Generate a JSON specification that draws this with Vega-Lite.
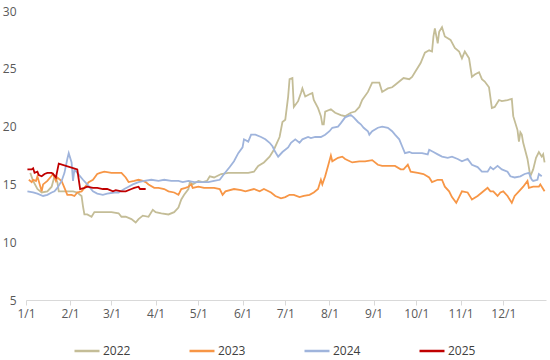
{
  "$schema": "https://vega.github.io/schema/vega-lite/v6.json",
  "width": 520,
  "height": 289,
  "autosize": {"type": "none"},
  "padding": {"left": 26, "top": 11, "right": 4, "bottom": 60},
  "background": "white",
  "config": {
    "view": {"stroke": null},
    "font": "Open Sans",
    "axis": {"labelFont": "Open Sans", "labelColor": "#595959", "labelFontSize": 12}
  },
  "data": {"values": [
        {"year":"2022","date":"2022/01/04","v":16.0},{"year":"2022","date":"2022/01/06","v":15.3},{"year":"2022","date":"2022/01/09","v":14.6},{"year":"2022","date":"2022/01/12","v":14.3},{"year":"2022","date":"2022/01/16","v":14.4},{"year":"2022","date":"2022/01/19","v":14.8},{"year":"2022","date":"2022/01/21","v":15.7},{"year":"2022","date":"2022/01/23","v":15.2},{"year":"2022","date":"2022/01/24","v":14.4},{"year":"2022","date":"2022/01/30","v":14.4},
        {"year":"2022","date":"2022/02/03","v":14.4},{"year":"2022","date":"2022/02/06","v":14.3},{"year":"2022","date":"2022/02/09","v":14.0},{"year":"2022","date":"2022/02/10","v":13.1},{"year":"2022","date":"2022/02/11","v":12.4},{"year":"2022","date":"2022/02/13","v":12.4},{"year":"2022","date":"2022/02/16","v":12.2},{"year":"2022","date":"2022/02/18","v":12.6},{"year":"2022","date":"2022/02/22","v":12.6},
        {"year":"2022","date":"2022/03/01","v":12.6},{"year":"2022","date":"2022/03/06","v":12.5},{"year":"2022","date":"2022/03/08","v":12.2},{"year":"2022","date":"2022/03/11","v":12.2},{"year":"2022","date":"2022/03/15","v":12.0},{"year":"2022","date":"2022/03/18","v":11.7},{"year":"2022","date":"2022/03/20","v":12.0},{"year":"2022","date":"2022/03/23","v":12.3},{"year":"2022","date":"2022/03/27","v":12.2},{"year":"2022","date":"2022/03/30","v":12.8},
        {"year":"2022","date":"2022/04/01","v":12.6},{"year":"2022","date":"2022/04/05","v":12.5},{"year":"2022","date":"2022/04/10","v":12.4},{"year":"2022","date":"2022/04/14","v":12.6},{"year":"2022","date":"2022/04/17","v":13.0},{"year":"2022","date":"2022/04/19","v":13.7},{"year":"2022","date":"2022/04/21","v":14.1},{"year":"2022","date":"2022/04/24","v":14.6},{"year":"2022","date":"2022/04/25","v":15.2},{"year":"2022","date":"2022/04/27","v":15.0},
        {"year":"2022","date":"2022/05/01","v":15.3},{"year":"2022","date":"2022/05/04","v":15.2},{"year":"2022","date":"2022/05/07","v":15.3},{"year":"2022","date":"2022/05/09","v":15.7},{"year":"2022","date":"2022/05/12","v":15.6},{"year":"2022","date":"2022/05/17","v":15.9},{"year":"2022","date":"2022/05/22","v":16.0},{"year":"2022","date":"2022/05/26","v":16.0},{"year":"2022","date":"2022/05/31","v":16.0},
        {"year":"2022","date":"2022/06/05","v":16.0},{"year":"2022","date":"2022/06/09","v":16.1},{"year":"2022","date":"2022/06/12","v":16.6},{"year":"2022","date":"2022/06/16","v":16.9},{"year":"2022","date":"2022/06/20","v":17.4},{"year":"2022","date":"2022/06/23","v":18.0},{"year":"2022","date":"2022/06/27","v":19.1},{"year":"2022","date":"2022/06/29","v":20.4},
        {"year":"2022","date":"2022/07/01","v":20.6},{"year":"2022","date":"2022/07/03","v":22.6},{"year":"2022","date":"2022/07/04","v":24.1},{"year":"2022","date":"2022/07/06","v":24.2},{"year":"2022","date":"2022/07/07","v":21.7},{"year":"2022","date":"2022/07/10","v":22.2},{"year":"2022","date":"2022/07/12","v":22.9},{"year":"2022","date":"2022/07/13","v":23.3},{"year":"2022","date":"2022/07/15","v":22.6},{"year":"2022","date":"2022/07/18","v":22.8},{"year":"2022","date":"2022/07/20","v":22.9},{"year":"2022","date":"2022/07/21","v":22.3},{"year":"2022","date":"2022/07/24","v":21.6},{"year":"2022","date":"2022/07/26","v":20.9},{"year":"2022","date":"2022/07/27","v":20.2},{"year":"2022","date":"2022/07/28","v":20.2},{"year":"2022","date":"2022/07/29","v":21.3},
        {"year":"2022","date":"2022/08/02","v":21.5},{"year":"2022","date":"2022/08/05","v":21.2},{"year":"2022","date":"2022/08/09","v":21.0},{"year":"2022","date":"2022/08/12","v":20.9},{"year":"2022","date":"2022/08/16","v":21.2},{"year":"2022","date":"2022/08/19","v":21.3},{"year":"2022","date":"2022/08/22","v":21.7},{"year":"2022","date":"2022/08/24","v":22.3},{"year":"2022","date":"2022/08/28","v":23.0},{"year":"2022","date":"2022/08/31","v":23.8},
        {"year":"2022","date":"2022/09/02","v":23.8},{"year":"2022","date":"2022/09/05","v":23.8},{"year":"2022","date":"2022/09/07","v":23.0},{"year":"2022","date":"2022/09/11","v":23.3},{"year":"2022","date":"2022/09/14","v":23.4},{"year":"2022","date":"2022/09/16","v":23.6},{"year":"2022","date":"2022/09/19","v":23.9},{"year":"2022","date":"2022/09/22","v":24.2},{"year":"2022","date":"2022/09/26","v":24.1},{"year":"2022","date":"2022/09/28","v":24.3},{"year":"2022","date":"2022/09/30","v":24.7},
        {"year":"2022","date":"2022/10/04","v":25.5},{"year":"2022","date":"2022/10/07","v":26.4},{"year":"2022","date":"2022/10/10","v":26.6},{"year":"2022","date":"2022/10/12","v":26.5},{"year":"2022","date":"2022/10/13","v":27.8},{"year":"2022","date":"2022/10/14","v":28.5},{"year":"2022","date":"2022/10/16","v":27.2},{"year":"2022","date":"2022/10/17","v":28.2},{"year":"2022","date":"2022/10/19","v":28.6},{"year":"2022","date":"2022/10/21","v":27.8},{"year":"2022","date":"2022/10/25","v":27.5},{"year":"2022","date":"2022/10/28","v":26.8},{"year":"2022","date":"2022/10/31","v":26.5},
        {"year":"2022","date":"2022/11/02","v":25.9},{"year":"2022","date":"2022/11/04","v":26.5},{"year":"2022","date":"2022/11/07","v":25.9},{"year":"2022","date":"2022/11/09","v":24.3},{"year":"2022","date":"2022/11/11","v":24.5},{"year":"2022","date":"2022/11/14","v":24.7},{"year":"2022","date":"2022/11/16","v":24.1},{"year":"2022","date":"2022/11/18","v":23.9},{"year":"2022","date":"2022/11/21","v":23.4},{"year":"2022","date":"2022/11/23","v":21.6},{"year":"2022","date":"2022/11/25","v":21.7},{"year":"2022","date":"2022/11/28","v":22.3},{"year":"2022","date":"2022/11/30","v":22.2},
        {"year":"2022","date":"2022/12/04","v":22.3},{"year":"2022","date":"2022/12/07","v":22.4},{"year":"2022","date":"2022/12/08","v":20.9},{"year":"2022","date":"2022/12/11","v":19.7},{"year":"2022","date":"2022/12/12","v":18.7},{"year":"2022","date":"2022/12/13","v":19.5},{"year":"2022","date":"2022/12/14","v":19.3},{"year":"2022","date":"2022/12/15","v":18.6},{"year":"2022","date":"2022/12/18","v":17.2},{"year":"2022","date":"2022/12/20","v":15.7},{"year":"2022","date":"2022/12/22","v":16.3},{"year":"2022","date":"2022/12/24","v":17.3},{"year":"2022","date":"2022/12/26","v":17.8},{"year":"2022","date":"2022/12/28","v":17.4},{"year":"2022","date":"2022/12/29","v":17.6},{"year":"2022","date":"2022/12/30","v":16.9},

        {"year":"2023","date":"2023/01/03","v":15.4},{"year":"2023","date":"2023/01/05","v":15.2},{"year":"2023","date":"2023/01/06","v":15.4},{"year":"2023","date":"2023/01/08","v":15.3},{"year":"2023","date":"2023/01/09","v":15.7},{"year":"2023","date":"2023/01/12","v":14.4},{"year":"2023","date":"2023/01/13","v":15.0},{"year":"2023","date":"2023/01/16","v":15.3},{"year":"2023","date":"2023/01/18","v":15.6},{"year":"2023","date":"2023/01/20","v":15.9},{"year":"2023","date":"2023/01/22","v":15.3},{"year":"2023","date":"2023/01/23","v":15.6},{"year":"2023","date":"2023/01/26","v":15.3},{"year":"2023","date":"2023/01/28","v":14.7},{"year":"2023","date":"2023/01/30","v":14.1},
        {"year":"2023","date":"2023/02/02","v":14.1},{"year":"2023","date":"2023/02/04","v":14.0},{"year":"2023","date":"2023/02/06","v":14.3},{"year":"2023","date":"2023/02/09","v":14.4},{"year":"2023","date":"2023/02/11","v":14.7},{"year":"2023","date":"2023/02/14","v":15.2},{"year":"2023","date":"2023/02/17","v":15.4},{"year":"2023","date":"2023/02/20","v":15.9},{"year":"2023","date":"2023/02/22","v":16.0},{"year":"2023","date":"2023/02/25","v":16.1},
        {"year":"2023","date":"2023/03/01","v":16.0},{"year":"2023","date":"2023/03/04","v":16.0},{"year":"2023","date":"2023/03/08","v":16.0},{"year":"2023","date":"2023/03/11","v":15.6},{"year":"2023","date":"2023/03/13","v":15.2},{"year":"2023","date":"2023/03/17","v":15.3},{"year":"2023","date":"2023/03/20","v":15.4},{"year":"2023","date":"2023/03/23","v":15.3},{"year":"2023","date":"2023/03/25","v":15.2},{"year":"2023","date":"2023/03/27","v":15.0},{"year":"2023","date":"2023/03/31","v":14.7},
        {"year":"2023","date":"2023/04/03","v":14.7},{"year":"2023","date":"2023/04/07","v":14.6},{"year":"2023","date":"2023/04/10","v":14.4},{"year":"2023","date":"2023/04/14","v":14.3},{"year":"2023","date":"2023/04/17","v":14.1},{"year":"2023","date":"2023/04/19","v":14.6},{"year":"2023","date":"2023/04/22","v":14.7},{"year":"2023","date":"2023/04/24","v":14.8},{"year":"2023","date":"2023/04/26","v":15.0},{"year":"2023","date":"2023/04/27","v":14.7},
        {"year":"2023","date":"2023/05/01","v":14.8},{"year":"2023","date":"2023/05/05","v":14.7},{"year":"2023","date":"2023/05/12","v":14.7},{"year":"2023","date":"2023/05/16","v":14.6},{"year":"2023","date":"2023/05/18","v":14.1},{"year":"2023","date":"2023/05/20","v":14.4},{"year":"2023","date":"2023/05/26","v":14.6},{"year":"2023","date":"2023/05/31","v":14.5},
        {"year":"2023","date":"2023/06/03","v":14.4},{"year":"2023","date":"2023/06/09","v":14.6},{"year":"2023","date":"2023/06/13","v":14.4},{"year":"2023","date":"2023/06/16","v":14.6},{"year":"2023","date":"2023/06/21","v":14.3},{"year":"2023","date":"2023/06/24","v":14.0},{"year":"2023","date":"2023/06/28","v":13.8},
        {"year":"2023","date":"2023/07/01","v":13.9},{"year":"2023","date":"2023/07/04","v":14.1},{"year":"2023","date":"2023/07/07","v":14.1},{"year":"2023","date":"2023/07/11","v":13.9},{"year":"2023","date":"2023/07/14","v":14.0},{"year":"2023","date":"2023/07/18","v":14.1},{"year":"2023","date":"2023/07/21","v":14.3},{"year":"2023","date":"2023/07/24","v":14.6},{"year":"2023","date":"2023/07/26","v":15.4},{"year":"2023","date":"2023/07/27","v":15.0},{"year":"2023","date":"2023/07/29","v":15.7},{"year":"2023","date":"2023/07/31","v":16.6},
        {"year":"2023","date":"2023/08/02","v":17.5},{"year":"2023","date":"2023/08/03","v":17.0},{"year":"2023","date":"2023/08/07","v":17.3},{"year":"2023","date":"2023/08/10","v":17.4},{"year":"2023","date":"2023/08/12","v":17.2},{"year":"2023","date":"2023/08/17","v":16.9},{"year":"2023","date":"2023/08/22","v":17.0},{"year":"2023","date":"2023/08/26","v":17.0},{"year":"2023","date":"2023/08/31","v":17.1},
        {"year":"2023","date":"2023/09/04","v":16.7},{"year":"2023","date":"2023/09/07","v":16.6},{"year":"2023","date":"2023/09/12","v":16.6},{"year":"2023","date":"2023/09/16","v":16.6},{"year":"2023","date":"2023/09/20","v":16.3},{"year":"2023","date":"2023/09/22","v":16.3},{"year":"2023","date":"2023/09/25","v":16.7},{"year":"2023","date":"2023/09/27","v":16.1},
        {"year":"2023","date":"2023/10/02","v":16.0},{"year":"2023","date":"2023/10/06","v":15.9},{"year":"2023","date":"2023/10/10","v":15.6},{"year":"2023","date":"2023/10/12","v":15.2},{"year":"2023","date":"2023/10/16","v":15.4},{"year":"2023","date":"2023/10/19","v":15.4},{"year":"2023","date":"2023/10/21","v":14.8},{"year":"2023","date":"2023/10/24","v":14.4},{"year":"2023","date":"2023/10/26","v":13.9},{"year":"2023","date":"2023/10/29","v":13.4},{"year":"2023","date":"2023/10/31","v":13.9},
        {"year":"2023","date":"2023/11/02","v":14.4},{"year":"2023","date":"2023/11/06","v":14.3},{"year":"2023","date":"2023/11/08","v":13.9},{"year":"2023","date":"2023/11/09","v":13.7},{"year":"2023","date":"2023/11/13","v":14.0},{"year":"2023","date":"2023/11/16","v":14.3},{"year":"2023","date":"2023/11/20","v":14.7},{"year":"2023","date":"2023/11/22","v":14.4},{"year":"2023","date":"2023/11/24","v":14.4},{"year":"2023","date":"2023/11/27","v":14.0},{"year":"2023","date":"2023/11/29","v":14.3},
        {"year":"2023","date":"2023/12/01","v":14.4},{"year":"2023","date":"2023/12/04","v":14.0},{"year":"2023","date":"2023/12/07","v":13.4},{"year":"2023","date":"2023/12/09","v":14.0},{"year":"2023","date":"2023/12/12","v":14.4},{"year":"2023","date":"2023/12/15","v":14.8},{"year":"2023","date":"2023/12/18","v":15.3},{"year":"2023","date":"2023/12/19","v":14.7},{"year":"2023","date":"2023/12/22","v":14.8},{"year":"2023","date":"2023/12/26","v":14.8},{"year":"2023","date":"2023/12/27","v":15.0},{"year":"2023","date":"2023/12/29","v":14.6},{"year":"2023","date":"2023/12/30","v":14.4},

        {"year":"2024","date":"2024/01/02","v":14.4},{"year":"2024","date":"2024/01/06","v":14.3},{"year":"2024","date":"2024/01/09","v":14.2},{"year":"2024","date":"2024/01/13","v":14.0},{"year":"2024","date":"2024/01/16","v":14.1},{"year":"2024","date":"2024/01/19","v":14.3},{"year":"2024","date":"2024/01/21","v":14.4},{"year":"2024","date":"2024/01/23","v":14.7},{"year":"2024","date":"2024/01/26","v":15.3},{"year":"2024","date":"2024/01/28","v":16.0},{"year":"2024","date":"2024/01/30","v":17.2},{"year":"2024","date":"2024/01/31","v":17.7},
        {"year":"2024","date":"2024/02/02","v":16.9},{"year":"2024","date":"2024/02/03","v":15.3},{"year":"2024","date":"2024/02/04","v":16.3},{"year":"2024","date":"2024/02/06","v":16.0},{"year":"2024","date":"2024/02/10","v":15.4},{"year":"2024","date":"2024/02/13","v":15.0},{"year":"2024","date":"2024/02/17","v":14.4},{"year":"2024","date":"2024/02/20","v":14.2},{"year":"2024","date":"2024/02/24","v":14.1},{"year":"2024","date":"2024/02/27","v":14.2},
        {"year":"2024","date":"2024/03/03","v":14.3},{"year":"2024","date":"2024/03/06","v":14.3},{"year":"2024","date":"2024/03/10","v":14.6},{"year":"2024","date":"2024/03/13","v":14.8},{"year":"2024","date":"2024/03/16","v":15.0},{"year":"2024","date":"2024/03/20","v":15.2},{"year":"2024","date":"2024/03/24","v":15.3},{"year":"2024","date":"2024/03/29","v":15.4},
        {"year":"2024","date":"2024/04/03","v":15.3},{"year":"2024","date":"2024/04/07","v":15.4},{"year":"2024","date":"2024/04/12","v":15.3},{"year":"2024","date":"2024/04/17","v":15.3},{"year":"2024","date":"2024/04/20","v":15.2},{"year":"2024","date":"2024/04/24","v":15.3},{"year":"2024","date":"2024/04/28","v":15.2},
        {"year":"2024","date":"2024/05/03","v":15.2},{"year":"2024","date":"2024/05/08","v":15.2},{"year":"2024","date":"2024/05/12","v":15.3},{"year":"2024","date":"2024/05/16","v":15.4},{"year":"2024","date":"2024/05/19","v":15.9},{"year":"2024","date":"2024/05/23","v":16.5},{"year":"2024","date":"2024/05/26","v":17.0},{"year":"2024","date":"2024/05/29","v":17.7},
        {"year":"2024","date":"2024/06/01","v":18.2},{"year":"2024","date":"2024/06/02","v":18.9},{"year":"2024","date":"2024/06/05","v":18.7},{"year":"2024","date":"2024/06/07","v":19.3},{"year":"2024","date":"2024/06/10","v":19.3},{"year":"2024","date":"2024/06/14","v":19.1},{"year":"2024","date":"2024/06/17","v":18.9},{"year":"2024","date":"2024/06/20","v":18.6},{"year":"2024","date":"2024/06/22","v":18.3},{"year":"2024","date":"2024/06/24","v":17.8},{"year":"2024","date":"2024/06/26","v":17.4},{"year":"2024","date":"2024/06/29","v":17.8},
        {"year":"2024","date":"2024/07/03","v":18.2},{"year":"2024","date":"2024/07/05","v":18.6},{"year":"2024","date":"2024/07/08","v":18.9},{"year":"2024","date":"2024/07/11","v":18.6},{"year":"2024","date":"2024/07/13","v":18.9},{"year":"2024","date":"2024/07/17","v":19.1},{"year":"2024","date":"2024/07/19","v":19.0},{"year":"2024","date":"2024/07/22","v":19.1},{"year":"2024","date":"2024/07/26","v":19.1},{"year":"2024","date":"2024/07/29","v":19.3},
        {"year":"2024","date":"2024/08/01","v":19.6},{"year":"2024","date":"2024/08/03","v":19.9},{"year":"2024","date":"2024/08/07","v":20.0},{"year":"2024","date":"2024/08/09","v":20.3},{"year":"2024","date":"2024/08/12","v":20.8},{"year":"2024","date":"2024/08/16","v":21.0},{"year":"2024","date":"2024/08/18","v":20.8},{"year":"2024","date":"2024/08/21","v":20.4},{"year":"2024","date":"2024/08/23","v":20.2},{"year":"2024","date":"2024/08/25","v":19.9},{"year":"2024","date":"2024/08/28","v":19.6},{"year":"2024","date":"2024/08/29","v":19.3},{"year":"2024","date":"2024/08/31","v":19.6},
        {"year":"2024","date":"2024/09/04","v":19.9},{"year":"2024","date":"2024/09/07","v":20.0},{"year":"2024","date":"2024/09/11","v":19.9},{"year":"2024","date":"2024/09/14","v":19.6},{"year":"2024","date":"2024/09/16","v":19.3},{"year":"2024","date":"2024/09/19","v":18.9},{"year":"2024","date":"2024/09/21","v":18.3},{"year":"2024","date":"2024/09/23","v":17.7},{"year":"2024","date":"2024/09/26","v":17.8},{"year":"2024","date":"2024/09/28","v":17.7},
        {"year":"2024","date":"2024/10/02","v":17.7},{"year":"2024","date":"2024/10/05","v":17.7},{"year":"2024","date":"2024/10/09","v":17.6},{"year":"2024","date":"2024/10/10","v":18.0},{"year":"2024","date":"2024/10/13","v":17.8},{"year":"2024","date":"2024/10/16","v":17.6},{"year":"2024","date":"2024/10/19","v":17.4},{"year":"2024","date":"2024/10/23","v":17.3},{"year":"2024","date":"2024/10/26","v":17.4},{"year":"2024","date":"2024/10/30","v":17.2},
        {"year":"2024","date":"2024/11/02","v":17.0},{"year":"2024","date":"2024/11/06","v":17.2},{"year":"2024","date":"2024/11/09","v":16.7},{"year":"2024","date":"2024/11/13","v":16.5},{"year":"2024","date":"2024/11/16","v":16.1},{"year":"2024","date":"2024/11/20","v":16.1},{"year":"2024","date":"2024/11/22","v":16.5},{"year":"2024","date":"2024/11/24","v":16.3},{"year":"2024","date":"2024/11/27","v":16.6},{"year":"2024","date":"2024/11/30","v":16.3},
        {"year":"2024","date":"2024/12/04","v":16.1},{"year":"2024","date":"2024/12/06","v":15.7},{"year":"2024","date":"2024/12/09","v":15.6},{"year":"2024","date":"2024/12/13","v":15.7},{"year":"2024","date":"2024/12/16","v":15.9},{"year":"2024","date":"2024/12/19","v":16.0},{"year":"2024","date":"2024/12/21","v":15.4},{"year":"2024","date":"2024/12/22","v":15.3},{"year":"2024","date":"2024/12/25","v":15.4},{"year":"2024","date":"2024/12/26","v":15.9},{"year":"2024","date":"2024/12/28","v":15.7},

        {"year":"2025","date":"2025/01/02","v":16.3},{"year":"2025","date":"2025/01/05","v":16.3},{"year":"2025","date":"2025/01/06","v":16.4},{"year":"2025","date":"2025/01/07","v":16.0},{"year":"2025","date":"2025/01/09","v":16.1},{"year":"2025","date":"2025/01/10","v":15.8},{"year":"2025","date":"2025/01/12","v":15.7},{"year":"2025","date":"2025/01/14","v":15.9},{"year":"2025","date":"2025/01/16","v":16.0},{"year":"2025","date":"2025/01/19","v":16.0},{"year":"2025","date":"2025/01/20","v":15.9},{"year":"2025","date":"2025/01/22","v":15.6},{"year":"2025","date":"2025/01/24","v":16.8},
        {"year":"2025","date":"2025/02/06","v":16.3},{"year":"2025","date":"2025/02/08","v":14.6},{"year":"2025","date":"2025/02/11","v":14.7},{"year":"2025","date":"2025/02/13","v":14.8},{"year":"2025","date":"2025/02/17","v":14.7},{"year":"2025","date":"2025/02/20","v":14.7},{"year":"2025","date":"2025/02/24","v":14.6},{"year":"2025","date":"2025/02/27","v":14.6},
        {"year":"2025","date":"2025/03/02","v":14.4},{"year":"2025","date":"2025/03/04","v":14.5},{"year":"2025","date":"2025/03/08","v":14.4},{"year":"2025","date":"2025/03/11","v":14.4},{"year":"2025","date":"2025/03/15","v":14.6},{"year":"2025","date":"2025/03/17","v":14.7},{"year":"2025","date":"2025/03/20","v":14.8},{"year":"2025","date":"2025/03/21","v":14.6},{"year":"2025","date":"2025/03/25","v":14.6}
  ]},
  "mark": {"type": "line", "strokeWidth": 1.8, "interpolate": "linear"},
  "encoding": {
    "x": {
      "field": "date", "timeUnit": "monthdate", "type": "temporal",
      "scale": {"domain": [{"year": 2012, "month": 1, "date": 1}, {"year": 2012, "month": 12, "date": 31}], "nice": false},
      "axis": {
        "title": null, "format": "%-m/%-d", "tickCount": {"interval": "month", "step": 1},
        "grid": false, "domainColor": "#D9D9D9", "tickColor": "#D9D9D9", "tickSize": 5,
        "labelPadding": 3, "labelFlush": false, "labelOverlap": false
      }
    },
    "y": {
      "field": "v", "type": "quantitative",
      "scale": {"domain": [5, 30], "nice": false, "zero": false},
      "axis": {
        "title": null, "values": [5, 10, 15, 20, 25, 30], "grid": false, "domain": false, "ticks": false,
        "labelPadding": 10
      }
    },
    "color": {
      "field": "year", "type": "nominal",
      "scale": {"domain": ["2022", "2023", "2024", "2025"], "range": ["#C4BD97", "#F79646", "#9FB4DC", "#C00000"]},
      "legend": {
        "title": null, "orient": "none", "direction": "horizontal", "legendX": 47, "legendY": 326,
        "symbolType": "stroke", "symbolSize": 625, "symbolStrokeWidth": 2.5,
        "labelFontSize": 12, "labelColor": "#404040", "labelFont": "Open Sans", "labelOffset": 2,
        "columnPadding": 53
      }
    }
  }
}
